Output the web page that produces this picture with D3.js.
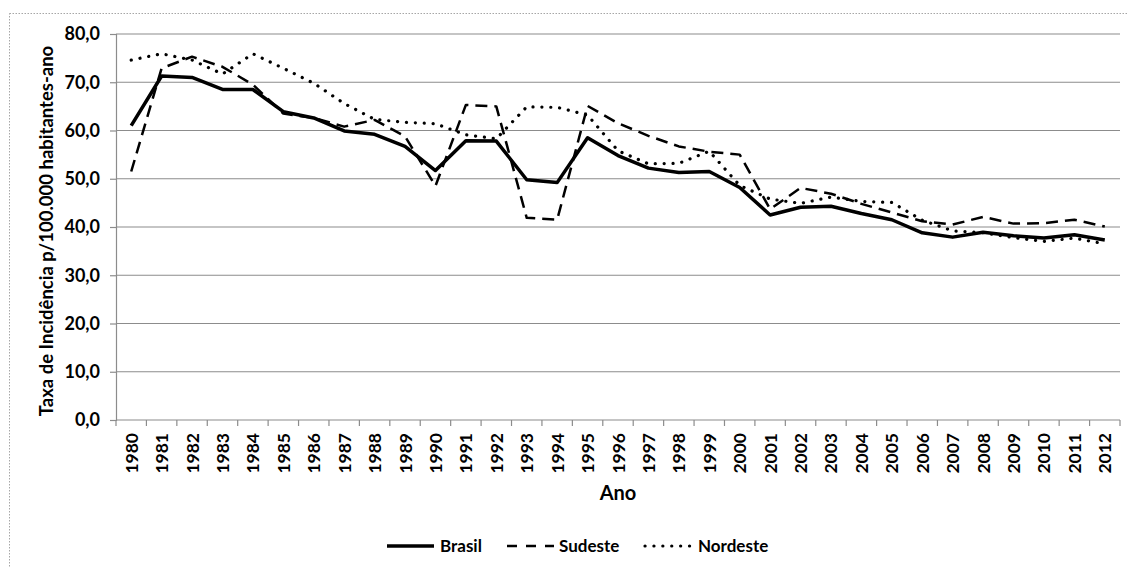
<!DOCTYPE html>
<html>
<head>
<meta charset="utf-8">
<script src="https://cdn.jsdelivr.net/npm/d3@7"></script>
<style>
html,body{margin:0;padding:0;background:#fff;}
svg{display:block;font-family:Lato,"Open Sans",sans-serif;}
</style>
</head>
<body>
<svg id="chart" width="1128" height="568"></svg>
<script>
const years = [1980,1981,1982,1983,1984,1985,1986,1987,1988,1989,1990,1991,1992,1993,1994,1995,1996,1997,1998,1999,2000,2001,2002,2003,2004,2005,2006,2007,2008,2009,2010,2011,2012];
const brasil = [61.0,71.3,71.0,68.5,68.5,63.9,62.6,59.9,59.2,56.7,51.7,57.9,57.8,49.8,49.2,58.5,54.8,52.2,51.3,51.5,48.2,42.5,44.1,44.3,42.8,41.5,38.8,37.9,38.9,38.2,37.7,38.4,37.3];
const sudeste = [51.5,72.9,75.3,73.2,69.5,63.5,62.6,60.8,62.2,58.8,48.5,65.3,65.0,41.9,41.5,65.1,61.5,58.9,56.7,55.6,55.0,43.7,48.1,46.9,44.8,43.0,41.2,40.5,42.1,40.7,40.8,41.5,40.1];
const nordeste = [74.6,75.9,74.6,71.7,75.9,72.9,69.8,65.6,62.3,61.7,61.4,59.1,58.3,64.9,64.8,63.2,55.8,53.1,53.2,55.7,48.6,45.8,44.9,46.2,45.3,45.1,41.4,39.2,38.8,37.8,37.0,37.7,36.5];
const yTicks = [0,10,20,30,40,50,60,70,80];
const seriesNames = ["Brasil","Sudeste","Nordeste"];

const svg = d3.select("#chart");
const pLeft = 116, pRight = 1120, pTop = 34, pBottom = 420;

// chart border
svg.append("rect").attr("x",9.5).attr("y",13.5).attr("width",1130).attr("height",570)
  .attr("fill","none").attr("stroke","#a6a6a6").attr("stroke-width",1).attr("stroke-dasharray","1.5 1.5");

const x = d3.scaleBand().domain(years).range([pLeft,pRight]).paddingInner(0).paddingOuter(0);
const y = d3.scaleLinear().domain([0,80]).range([pBottom,pTop]);
const cx = yr => x(yr) + x.bandwidth()/2;

// gridlines
svg.append("g").selectAll("line").data(yTicks.filter(d=>d>0)).join("line")
  .attr("x1",pLeft).attr("x2",pRight).attr("y1",d=>y(d)).attr("y2",d=>y(d))
  .attr("stroke","#8c8c8c").attr("stroke-width",1.2);

// y axis
const yAxis = d3.axisLeft(y).tickValues(yTicks).tickSize(6).tickPadding(10)
  .tickFormat(d => d3.format(".1f")(d).replace(".",","));
const gy = svg.append("g").attr("transform",`translate(${pLeft},0)`).call(yAxis);
gy.select(".domain").attr("stroke","#8c8c8c").attr("stroke-width",1.2);
gy.selectAll(".tick line").attr("stroke","#8c8c8c").attr("stroke-width",1.2);
gy.selectAll(".tick text").attr("font-size","18px").attr("font-weight","bold").attr("fill","#000")
  .attr("font-family","Lato");

// x axis: ticks at category boundaries
const gx = svg.append("g").attr("transform",`translate(0,${pBottom})`);
gx.append("line").attr("x1",pLeft).attr("x2",pRight).attr("y1",0).attr("y2",0)
  .attr("stroke","#8c8c8c").attr("stroke-width",1.2);
const bounds = years.map(d=>x(d)).concat([pRight]);
gx.selectAll("line.tk").data(bounds).join("line").attr("class","tk")
  .attr("x1",d=>d).attr("x2",d=>d).attr("y1",0).attr("y2",6)
  .attr("stroke","#8c8c8c").attr("stroke-width",1.2);
gx.selectAll("text").data(years).join("text")
  .attr("transform",d=>`translate(${cx(d)+6.5},13) rotate(-90)`)
  .attr("text-anchor","end")
  .attr("font-size","17.5px").attr("font-weight","bold").attr("fill","#000")
  .text(d=>d);

// axis titles
svg.append("text").attr("x",618).attr("y",500).attr("text-anchor","middle")
  .attr("font-size","20px").attr("font-weight","bold").text("Ano");
svg.append("text").attr("transform",`translate(53,231) rotate(-90)`).attr("text-anchor","middle")
  .attr("font-size","18.5px").attr("font-weight","bold").text("Taxa de Incidência p/100.000 habitantes-ano");

// lines
const styles = {
  "Brasil": {w:3.5, dash:null, cap:"butt"},
  "Sudeste": {w:2.5, dash:"12 7", cap:"butt"},
  "Nordeste": {w:3.2, dash:"0.1 8.8", cap:"round"}
};
const dataMap = {"Brasil":brasil,"Sudeste":sudeste,"Nordeste":nordeste};
const line = d3.line().x((d,i)=>cx(years[i])).y(d=>y(d));
["Sudeste","Nordeste","Brasil"].forEach(name=>{
  const s = styles[name];
  svg.append("path").datum(dataMap[name]).attr("d",line)
    .attr("fill","none").attr("stroke","#000").attr("stroke-width",s.w)
    .attr("stroke-dasharray",s.dash).attr("stroke-linecap",s.cap).attr("stroke-linejoin","round");
});

// legend
const legend = [
  {name:"Brasil", x1:387, x2:434, tx:440, dash:null},
  {name:"Sudeste", x1:507, x2:554, tx:559, dash:"10 9"},
  {name:"Nordeste", x1:645, x2:692, tx:698, dash:"0.1 8.8"}
];
const ly = 546;
legend.forEach(l=>{
  const s = styles[l.name];
  svg.append("line").attr("x1",l.x1).attr("x2",l.x2).attr("y1",ly).attr("y2",ly)
    .attr("stroke","#000").attr("stroke-width",s.w)
    .attr("stroke-dasharray",l.dash)
    .attr("stroke-linecap",s.cap);
  svg.append("text").attr("x",l.tx).attr("y",ly+6).attr("font-size","17px").attr("font-weight","bold").text(l.name);
});
</script>
</body>
</html>
